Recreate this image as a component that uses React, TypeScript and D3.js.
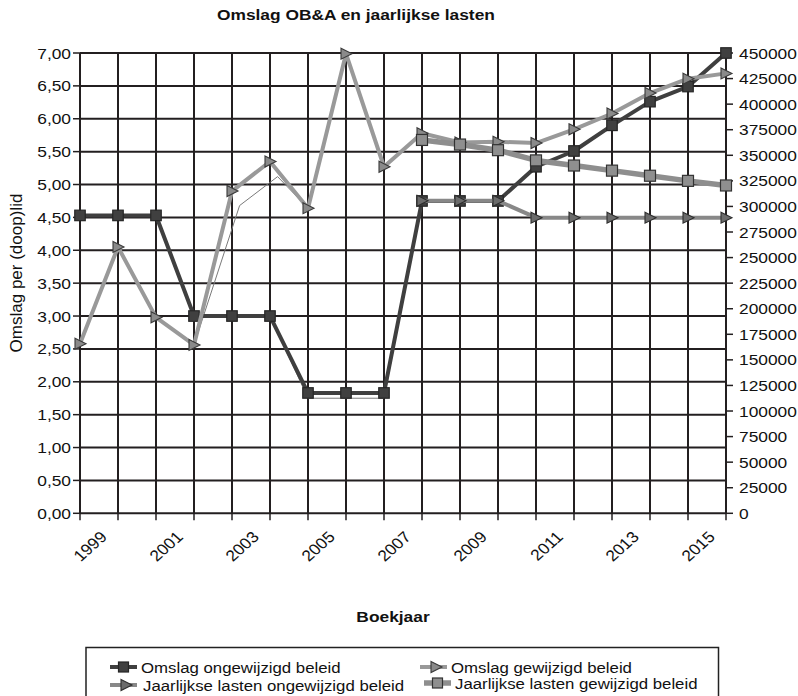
import React from "react";
import * as d3 from "d3";

// ---- data ----
const years = d3.range(1998, 2016);
const xTickYears = [1999, 2001, 2003, 2005, 2007, 2009, 2011, 2013, 2015];
const leftTicks = d3.range(0, 7.0001, 0.5);
const rightTicks = d3.range(0, 450001, 25000);

const omslagOngewijzigd = [4.53, 4.53, 4.53, 3.0, 3.0, 3.0, 1.83, 1.83, 1.83, 4.75, 4.75, 4.75, 5.27, 5.51, 5.9, 6.26, 6.49, 7.0];
const omslagGewijzigd = [2.58, 4.05, 2.98, 2.56, 4.9, 5.35, 4.64, 6.99, 5.27, 5.78, 5.64, 5.65, 5.63, 5.84, 6.08, 6.39, 6.61, 6.69];

const lastenYears = [2007, 2008, 2009, 2010, 2011, 2012, 2013, 2014, 2015];
const lastenOngewijzigd = [305500, 305500, 305500, 289000, 289000, 289000, 289000, 289000, 289000];
const lastenGewijzigd = [365000, 360500, 355000, 345000, 340000, 335000, 330000, 325000, 320500];

// thin trace lines visible in the original
const traceAYears = [2001, 2002.2, 2003.2, 2004];
const traceAValues = [2.56, 4.68, 5.12, 4.64];
const traceBYears = [2003, 2004, 2006, 2007];
const traceBValues = [3.0, 1.75, 1.75, 4.75];

const legendLabels = [
  "Omslag ongewijzigd beleid",
  "Omslag gewijzigd beleid",
  "Jaarlijkse lasten ongewijzigd beleid",
  "Jaarlijkse lasten gewijzigd beleid",
];

// ---- layout ----
const W = 798, H = 696;
const X0 = 80, X1 = 726, YT = 53, YB = 513.3;
const FONT = "'Liberation Sans', Arial, Helvetica, sans-serif";
const GRID = "#231f20";
const SX = 1.12;

const x = d3.scaleLinear().domain([1998, 2015]).range([X0, X1]);
const yL = d3.scaleLinear().domain([0, 7]).range([YB, YT]);
const yR = d3.scaleLinear().domain([0, 450000]).range([YB, YT]);
const fmtL = (v: number) => d3.format(".2f")(v).replace(".", ",");

const S1 = { line: "#3f3f3f", fill: "#404040", stroke: "#262626", lw: 4 };
const S2 = { line: "#999999", fill: "#8a8a8a", stroke: "#3a3a3a", lw: 4 };
const S3 = { line: "#888888", fill: "#6b6b6b", stroke: "#2e2e2e", lw: 4 };
const S4 = { line: "#8e8e8e", fill: "#8f8f8f", stroke: "#333333", lw: 5.5 };

const Square = ({ cx, cy, s, c }: any) => (
  <rect x={cx - s / 2} y={cy - s / 2} width={s} height={s} fill={c.fill} stroke={c.stroke} strokeWidth={1.2} />
);
const Tri = ({ cx, cy, c }: any) => (
  <path d={`M${cx - 5},${cy - 5.5}L${cx + 6},${cy}L${cx - 5},${cy + 5.5}Z`} fill={c.fill} stroke={c.stroke} strokeWidth={1.1} />
);
const T = ({ x, y, size = 15.5, anchor = "start", bold = false, rot = 0, sx = SX, children }: any) => (
  <text
    transform={`translate(${x},${y}) scale(${sx},1)${rot ? ` rotate(${rot})` : ""}`}
    fontSize={size}
    textAnchor={anchor}
    fontWeight={bold ? "bold" : "normal"}
    fill="#111"
  >
    {children}
  </text>
);

export default function App() {
  const lineL = d3.line<[number, number]>().x((d) => x(d[0])).y((d) => yL(d[1]));
  const lineR = d3.line<[number, number]>().x((d) => x(d[0])).y((d) => yR(d[1]));

  const s1 = years.map((yr, i) => [yr, omslagOngewijzigd[i]] as [number, number]);
  const s2 = years.map((yr, i) => [yr, omslagGewijzigd[i]] as [number, number]);
  const s3 = lastenYears.map((yr, i) => [yr, lastenOngewijzigd[i]] as [number, number]);
  const s4 = lastenYears.map((yr, i) => [yr, lastenGewijzigd[i]] as [number, number]);
  const tA = traceAYears.map((yr, i) => [yr, traceAValues[i]] as [number, number]);
  const tB = traceBYears.map((yr, i) => [yr, traceBValues[i]] as [number, number]);

  const lgX = [110, 420];
  const lgY = [667, 685];

  return (
    <svg width={W} height={H} style={{ position: "absolute", left: 0, top: 0, background: "#fff" }} fontFamily={FONT}>
      <rect width={W} height={H} fill="#fff" />
      {/* title */}
      <T x={217} y={20} bold size={15.5}>Omslag OB&amp;A en jaarlijkse lasten</T>

      {/* gridlines */}
      {leftTicks.map((t) => (
        <line key={"h" + t} x1={X0} x2={X1} y1={yL(t)} y2={yL(t)} stroke={GRID} strokeWidth={2} />
      ))}
      {years.map((yr) => (
        <line key={"v" + yr} x1={x(yr)} x2={x(yr)} y1={YT} y2={YB} stroke={GRID} strokeWidth={2} />
      ))}

      {/* left axis ticks and labels */}
      {leftTicks.map((t) => (
        <g key={"lt" + t}>
          <line x1={X0 - 7} x2={X0} y1={yL(t)} y2={yL(t)} stroke={GRID} strokeWidth={1.5} />
          <T x={71} y={yL(t) + 5.5} anchor="end">{fmtL(t)}</T>
        </g>
      ))}
      {/* right axis */}
      {rightTicks.map((t) => (
        <g key={"rt" + t}>
          <line x1={X1} x2={X1 + 7} y1={yR(t)} y2={yR(t)} stroke={GRID} strokeWidth={1.5} />
          <T x={739} y={yR(t) + 5.5}>{t}</T>
        </g>
      ))}
      {/* x ticks */}
      {years.map((yr) => (
        <line key={"xt" + yr} x1={x(yr)} x2={x(yr)} y1={YB} y2={YB + 7} stroke={GRID} strokeWidth={1.5} />
      ))}
      {xTickYears.map((yr) => (
        <T key={"xl" + yr} x={x(yr) - 10} y={538} rot={-45} anchor="end">{yr}</T>
      ))}

      {/* axis titles */}
      <text transform={`translate(22,273) rotate(-90)`} fontSize={17} textAnchor="middle" fill="#111">Omslag per (doop)lid</text>
      <T x={393} y={622} bold anchor="middle">Boekjaar</T>

      {/* thin traces */}
      <path d={lineL(tA) || ""} fill="none" stroke="#7a7a7a" strokeWidth={1} />
      <path d={lineL(tB) || ""} fill="none" stroke="#7a7a7a" strokeWidth={1} />

      {/* series 1 */}
      <path d={lineL(s1) || ""} fill="none" stroke={S1.line} strokeWidth={S1.lw} strokeLinejoin="round" />
      {s1.map((d, i) => <Square key={"s1" + i} cx={x(d[0])} cy={yL(d[1])} s={10.5} c={S1} />)}
      {/* series 2 */}
      <path d={lineL(s2) || ""} fill="none" stroke={S2.line} strokeWidth={S2.lw} strokeLinejoin="round" />
      {s2.map((d, i) => <Tri key={"s2" + i} cx={x(d[0])} cy={yL(d[1])} c={S2} />)}
      {/* series 3 */}
      <path d={lineR(s3) || ""} fill="none" stroke={S3.line} strokeWidth={S3.lw} strokeLinejoin="round" />
      {s3.map((d, i) => <Tri key={"s3" + i} cx={x(d[0])} cy={yR(d[1])} c={S3} />)}
      {/* series 4 */}
      <path d={lineR(s4) || ""} fill="none" stroke={S4.line} strokeWidth={S4.lw} strokeLinejoin="round" />
      {s4.map((d, i) => <Square key={"s4" + i} cx={x(d[0])} cy={yR(d[1])} s={11} c={S4} />)}

      {/* legend */}
      <rect x={86} y={647.5} width={632.5} height={70} fill="#fff" stroke="#222" strokeWidth={1.5} />
      {legendLabels.map((lab, i) => {
        const col = i % 2, row = Math.floor(i / 2);
        const lx = lgX[col] + (row === 1 && col === 1 ? 4 : 0);
        const ly = lgY[row] - (row === 1 && col === 1 ? 2 : 0);
        const c = [S1, S2, S3, S4][i];
        const mk = i === 0 || i === 3 ? "sq" : "tri";
        return (
          <g key={"lg" + i}>
            <line x1={lx} x2={lx + 27} y1={ly} y2={ly} stroke={c.line} strokeWidth={c.lw} />
            {mk === "sq" ? <Square cx={lx + 13.5} cy={ly} s={10} c={c} /> : <Tri cx={lx + 16} cy={ly} c={c} />}
            <T x={lx + 31 + (row === 1 && col === 0 ? 2 : 0)} y={ly + 5.5} size={15}>{lab}</T>
          </g>
        );
      })}
    </svg>
  );
}
